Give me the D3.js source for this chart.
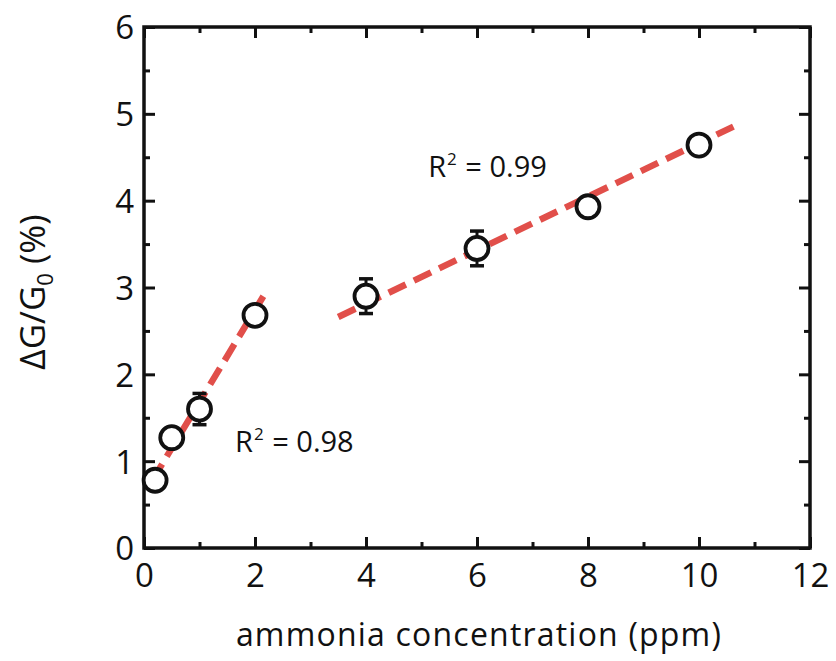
<!DOCTYPE html>
<html>
<head>
<meta charset="utf-8">
<script src="https://cdn.jsdelivr.net/npm/d3@7"></script>
<style>
  html, body { margin: 0; padding: 0; background: #fff; }
  svg { display: block; font-family: "Open Sans", "Noto Sans", sans-serif; }
</style>
</head>
<body>
<svg id="chart" width="836" height="661"></svg>
<script>
// Measured response vs. ammonia concentration
const concentration = [0.2, 0.5, 1, 2, 4, 6, 8, 10];
const response = [0.78, 1.27, 1.60, 2.68, 2.90, 3.45, 3.93, 4.64];
const errorBar = [0, 0, 0.18, 0, 0.20, 0.20, 0, 0];

// Linear fits for the low and high concentration ranges
const fitLow = { x: [0.15, 2.18], slope: 1.06, intercept: 0.62, label: "0.98", at: [1.64, 1.106] };
const fitHigh = { x: [3.5, 10.62], slope: 0.308, intercept: 1.582, label: "0.99", at: [5.12, 4.27] };

const xTicks = [0, 2, 4, 6, 8, 10, 12];
const yTicks = [0, 1, 2, 3, 4, 5, 6];

const svg = d3.select("#chart");
const m = { left: 144, right: 810, top: 27, bottom: 548 };

const x = d3.scaleLinear().domain([0, 12]).range([m.left, m.right]);
const y = d3.scaleLinear().domain([0, 6]).range([m.bottom, m.top]);

const ink = "#111";
const red = "#e14f4a";

// Axes with inward ticks on all four sides
const minorX = d3.range(0, 12.01, 1);
const minorY = d3.range(0, 6.01, 0.5);

function tickLayer(axis, transform) {
  const g = svg.append("g").attr("transform", transform).call(axis);
  g.select(".domain").remove();
  g.selectAll("line").attr("stroke", ink).attr("stroke-width", 3);
  return g;
}

// major ticks with labels
const gxb = tickLayer(d3.axisBottom(x).tickValues(xTicks).tickSize(-11).tickPadding(16).tickFormat(d3.format("d")), `translate(0,${m.bottom})`);
gxb.selectAll("text").attr("font-size", 33).attr("fill", ink).attr("font-family", "Open Sans");
const gyl = tickLayer(d3.axisLeft(y).tickValues(yTicks).tickSize(-11).tickPadding(10).tickFormat(d3.format("d")), `translate(${m.left},0)`);
gyl.selectAll("text").attr("font-size", 33).attr("fill", ink).attr("font-family", "Open Sans").attr("dy", "0.36em");

// unlabeled ticks on top and right, plus minor ticks
tickLayer(d3.axisTop(x).tickValues(xTicks).tickSize(-11).tickFormat(""), `translate(0,${m.top})`);
tickLayer(d3.axisRight(y).tickValues(yTicks).tickSize(-11).tickFormat(""), `translate(${m.right},0)`);
tickLayer(d3.axisBottom(x).tickValues(minorX.filter(v => v % 2)).tickSize(-6).tickFormat(""), `translate(0,${m.bottom})`);
tickLayer(d3.axisTop(x).tickValues(minorX.filter(v => v % 2)).tickSize(-6).tickFormat(""), `translate(0,${m.top})`);
tickLayer(d3.axisLeft(y).tickValues(minorY.filter(v => v % 1)).tickSize(-6).tickFormat(""), `translate(${m.left},0)`);
tickLayer(d3.axisRight(y).tickValues(minorY.filter(v => v % 1)).tickSize(-6).tickFormat(""), `translate(${m.right},0)`);

// frame
svg.append("rect")
  .attr("x", m.left).attr("y", m.top)
  .attr("width", m.right - m.left).attr("height", m.bottom - m.top)
  .attr("fill", "none").attr("stroke", ink).attr("stroke-width", 3.5);

// fit lines
[fitLow, fitHigh].forEach(f => {
  svg.append("line")
    .attr("x1", x(f.x[0])).attr("y1", y(f.intercept + f.slope * f.x[0]))
    .attr("x2", x(f.x[1])).attr("y2", y(f.intercept + f.slope * f.x[1]))
    .attr("stroke", red).attr("stroke-width", 6.5)
    .attr("stroke-dasharray", "19,9");
});

// error bars
const pts = concentration.map((c, i) => ({ c, v: response[i], e: errorBar[i] }));
const eb = svg.append("g").attr("stroke", ink).attr("stroke-width", 3);
pts.filter(d => d.e > 0).forEach(d => {
  eb.append("line").attr("x1", x(d.c)).attr("x2", x(d.c)).attr("y1", y(d.v - d.e)).attr("y2", y(d.v + d.e));
  [d.v - d.e, d.v + d.e].forEach(v => {
    eb.append("line").attr("x1", x(d.c) - 7).attr("x2", x(d.c) + 7).attr("y1", y(v)).attr("y2", y(v)).attr("stroke-width", 3.5);
  });
});

// markers
svg.append("g").selectAll("circle").data(pts).join("circle")
  .attr("cx", d => x(d.c)).attr("cy", d => y(d.v)).attr("r", 11.5)
  .attr("fill", "#fff").attr("stroke", ink).attr("stroke-width", 3.8);

// R² annotations
[fitLow, fitHigh].forEach(f => {
  const t = svg.append("text")
    .attr("x", x(f.at[0])).attr("y", y(f.at[1]))
    .attr("font-size", 29).attr("fill", ink);
  t.append("tspan").text("R");
  t.append("tspan").text("2").attr("font-size", 17).attr("dy", -12).attr("dx", 1);
  t.append("tspan").text(" = " + f.label).attr("dy", 12).attr("dx", 1);
});

// axis titles
svg.append("text")
  .attr("x", (m.left + m.right) / 2 + 2).attr("y", 646)
  .attr("text-anchor", "middle").attr("font-size", 32).attr("letter-spacing", 1.2).attr("fill", ink)
  .text("ammonia concentration (ppm)");

const yt = svg.append("text")
  .attr("transform", `translate(45,292) rotate(-90)`)
  .attr("text-anchor", "middle").attr("font-size", 35).attr("fill", ink);
yt.append("tspan").text("ΔG/G");
yt.append("tspan").text("0").attr("font-size", 22).attr("dy", 8);
yt.append("tspan").text(" (%)").attr("dy", -8);
</script>
</body>
</html>
